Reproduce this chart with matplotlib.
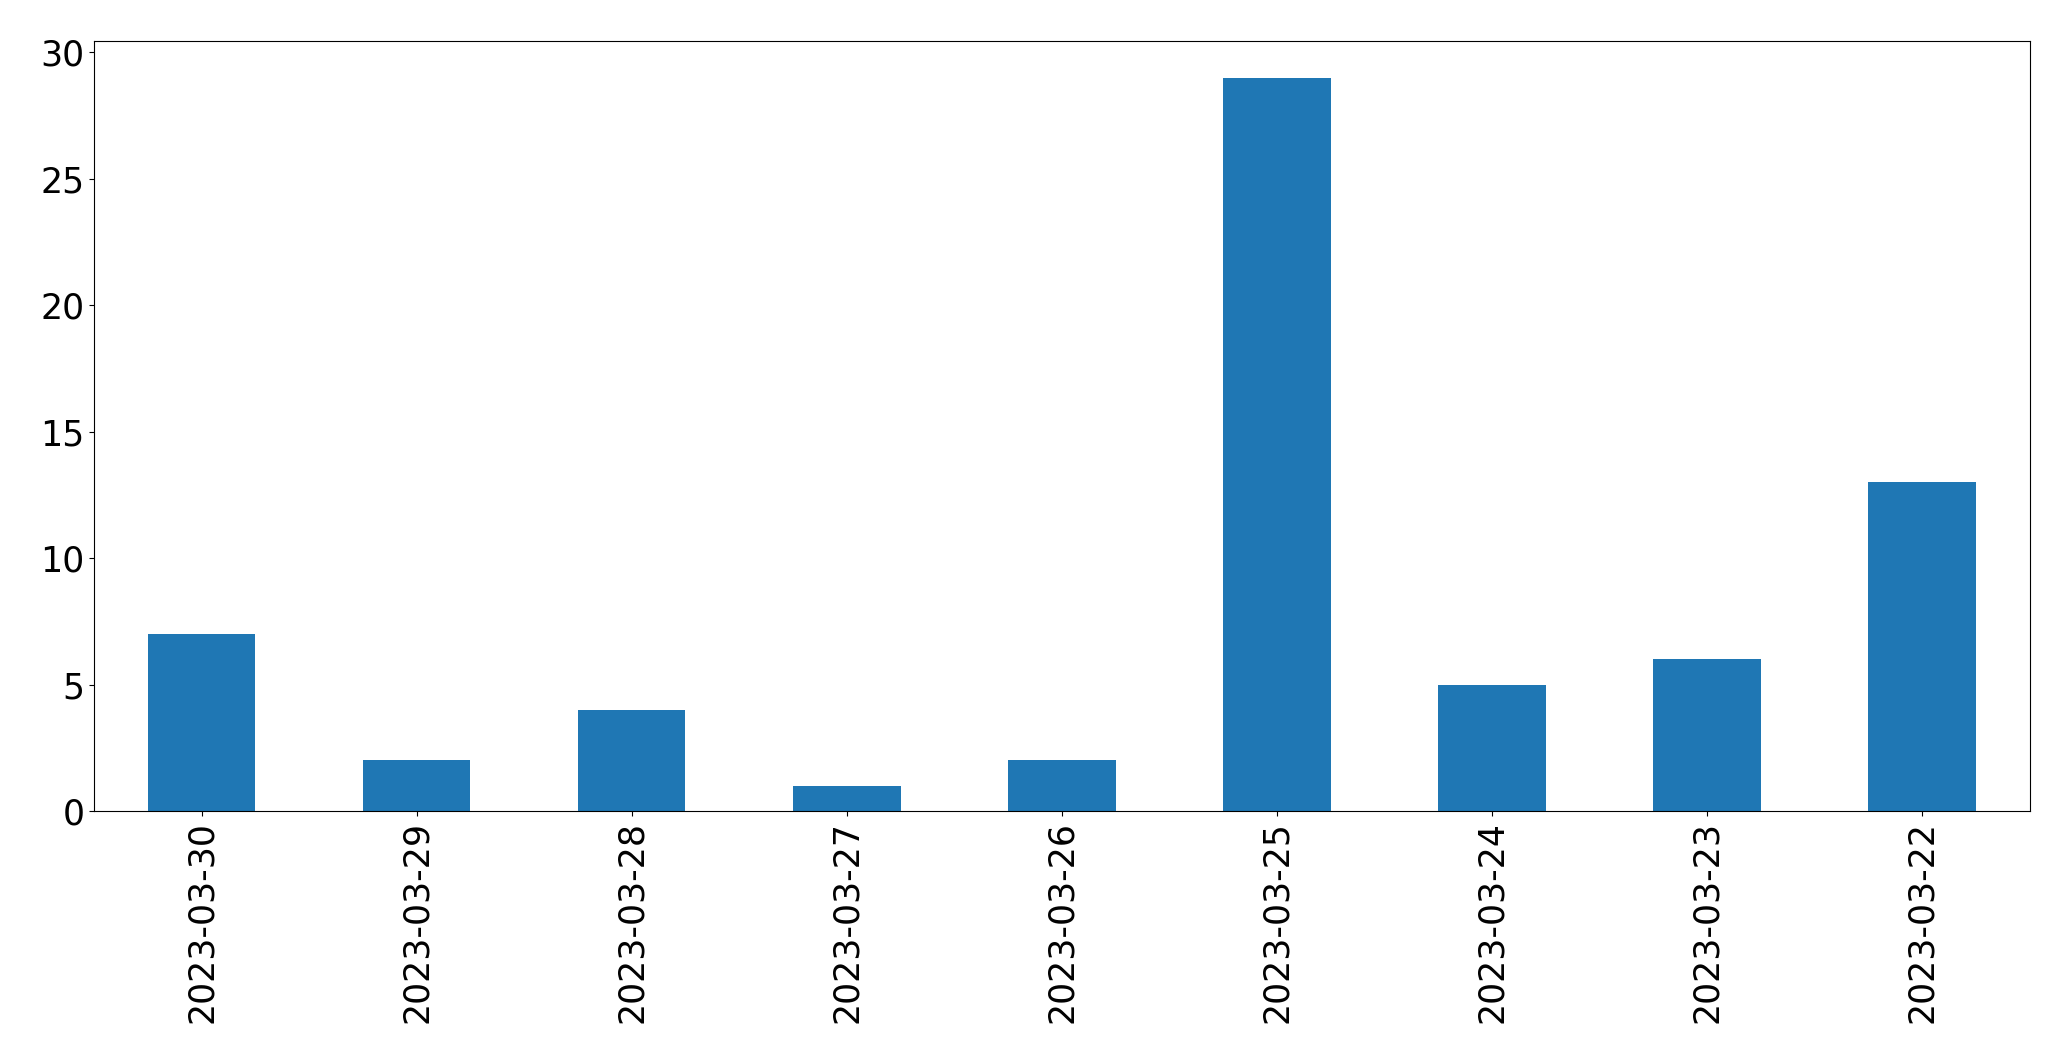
import matplotlib
matplotlib.use('Agg')
import matplotlib.pyplot as plt
import pandas as pd

# daily counts, newest first (as in the reference)
dates = ['2023-03-30', '2023-03-29', '2023-03-28', '2023-03-27', '2023-03-26',
         '2023-03-25', '2023-03-24', '2023-03-23', '2023-03-22']
counts = [7, 2, 4, 1, 2, 29, 5, 6, 13]

s = pd.Series(counts, index=dates)

fig = plt.figure(figsize=(20.71, 10.63), dpi=100)
ax = fig.add_axes([0.0454, 0.237, 0.9346, 0.7244])
s.plot(kind='bar', ax=ax, color='#1f77b4')
ax.tick_params(axis='both', labelsize=25)

plt.savefig('out.png', dpi=100)
